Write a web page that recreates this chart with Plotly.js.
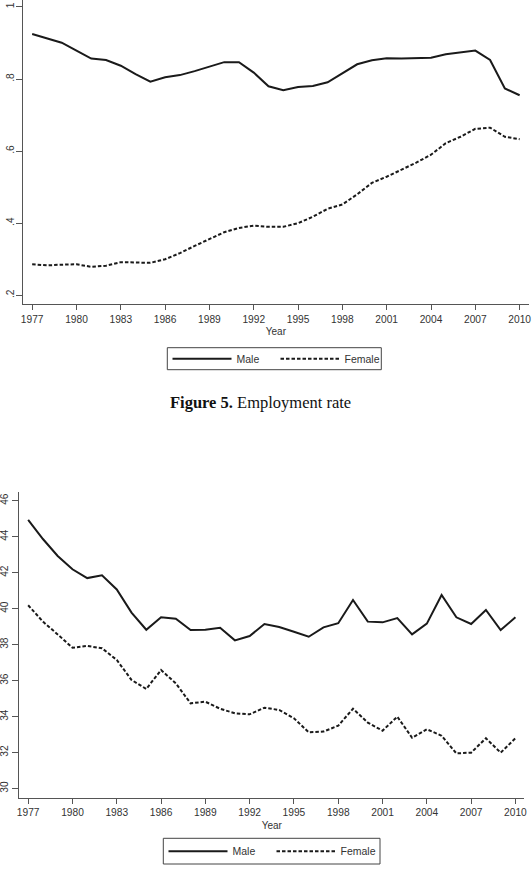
<!DOCTYPE html>
<html>
<head>
<meta charset="utf-8">
<script src="https://cdn.plot.ly/plotly-3.0.1.min.js"></script>
<style>
  html, body { margin: 0; padding: 0; background: #fff; }
  #chart { width: 532px; height: 876px; }
</style>
</head>
<body>
<div id="chart"></div>
<script>
// Survey years
const years = [1977,1978,1979,1980,1981,1982,1983,1984,1985,1986,1987,1988,1989,1990,1991,1992,1993,
               1994,1995,1996,1997,1998,1999,2000,2001,2002,2003,2004,2005,2006,2007,2008,2009,2010];

// Employment rate by sex
const maleEmployment = [0.925,0.913,0.901,0.879,0.857,0.853,0.837,0.814,0.793,0.805,0.811,0.822,0.834,0.847,0.847,0.818,0.780,
                        0.769,0.778,0.781,0.791,0.815,0.841,0.852,0.858,0.857,0.857,0.859,0.869,0.873,0.879,0.853,0.774,0.755];
const femaleEmployment = [0.286,0.283,0.285,0.286,0.279,0.282,0.292,0.292,0.290,0.300,0.317,0.337,0.357,0.375,0.387,0.393,0.390,
                          0.390,0.400,0.418,0.440,0.452,0.480,0.512,0.529,0.548,0.568,0.590,0.622,0.640,0.662,0.665,0.640,0.633];

// Second panel series by sex
const maleSecond = [44.93,43.87,42.93,42.19,41.70,41.85,41.07,39.78,38.83,39.52,39.44,38.81,38.83,38.94,38.24,38.48,39.15,
                    38.98,38.72,38.44,38.96,39.19,40.48,39.28,39.24,39.48,38.57,39.17,40.76,39.52,39.15,39.93,38.81,39.52];
const femaleSecond = [40.19,39.28,38.57,37.83,37.93,37.80,37.15,36.04,35.54,36.59,35.85,34.74,34.83,34.44,34.19,34.13,34.50,
                      34.37,33.91,33.13,33.17,33.50,34.44,33.67,33.22,34.00,32.83,33.30,32.94,31.96,32.00,32.80,32.00,32.80];

// Tick values and labels
const yearTicks = [1977,1980,1983,1986,1989,1992,1995,1998,2001,2004,2007,2010];
const rateTicks = [0.2,0.4,0.6,0.8,1];
const rateTickText = ['.2','.4','.6','.8','1'];
const secondTicks = [30,32,34,36,38,40,42,44,46];

const seriesNames = ['Male', 'Female'];
const caption = '<b>Figure 5.</b> Employment rate';

const W = 532, H = 876;
const px = v => v / W;
const py = v => 1 - v / H;

const lineColor = '#1a1a1a';
const axisColor = '#555555';
const textColor = '#333333';
const sans = 'Liberation Sans, Arial, sans-serif';
const dashPattern = '3.5px,2px';

function trace(y, name, dashed, xa, ya, legend) {
  return {
    x: years, y: y, name: name, type: 'scatter', mode: 'lines',
    xaxis: xa, yaxis: ya, legend: legend,
    line: { color: lineColor, width: 2, dash: dashed ? dashPattern : 'solid' },
    hoverinfo: 'x+y'
  };
}

const data = [
  trace(maleEmployment, seriesNames[0], false, 'x', 'y', 'legend'),
  trace(femaleEmployment, seriesNames[1], true, 'x', 'y', 'legend'),
  trace(maleSecond, seriesNames[0], false, 'x2', 'y2', 'legend2'),
  trace(femaleSecond, seriesNames[1], true, 'x2', 'y2', 'legend2')
];

function xAxis(domain, anchor) {
  return {
    domain: domain, anchor: anchor, range: [1976.4, 2010.6],
    tickvals: yearTicks, ticks: 'outside', ticklen: 5, tickwidth: 1, tickcolor: axisColor,
    showline: true, linecolor: axisColor, linewidth: 1,
    showgrid: false, zeroline: false,
    tickfont: { family: sans, size: 10.2, color: textColor },
    title: { text: 'Year', font: { family: sans, size: 10, color: textColor }, standoff: 4 }
  };
}

function yAxis(domain, anchor, range, vals, text, standoff) {
  const ax = {
    domain: domain, anchor: anchor, range: range,
    tickvals: vals, ticks: 'outside', ticklen: 6, tickwidth: 1, tickcolor: axisColor,
    tickangle: -90, ticklabelstandoff: standoff,
    showline: true, linecolor: axisColor, linewidth: 1,
    showgrid: false, zeroline: false,
    tickfont: { family: sans, size: 10.2, color: textColor }
  };
  if (text) ax.ticktext = text;
  return ax;
}

// Legend entries sit inside a framed box drawn as a shape
function legendEntries(x, yMid) {
  return {
    orientation: 'h', x: x, y: yMid, xanchor: 'left', yanchor: 'middle',
    borderwidth: 0, bgcolor: 'rgba(0,0,0,0)',
    itemwidth: 59, entrywidth: 34,
    font: { family: sans, size: 10.5, color: textColor },
    traceorder: 'normal'
  };
}

function frame(x0, x1, y0, y1) {
  return {
    type: 'rect', xref: 'paper', yref: 'paper',
    x0: px(x0), x1: px(x1), y0: py(y1), y1: py(y0),
    line: { color: '#444444', width: 1 }, fillcolor: 'rgba(0,0,0,0)', layer: 'above'
  };
}

const layout = {
  width: W, height: H,
  margin: { l: 0, r: 0, t: 0, b: 0 },
  paper_bgcolor: '#ffffff', plot_bgcolor: '#ffffff',
  showlegend: true,
  xaxis: xAxis([px(23.3), px(528.5)], 'y'),
  yaxis: yAxis([py(304.3), py(0)], 'x', [0.175, 1.0194], rateTicks, rateTickText, -2),
  xaxis2: xAxis([px(19.3), px(524.3)], 'y2'),
  yaxis2: yAxis([py(798), py(491.7)], 'x2', [29.48, 46.5], secondTicks, null, 0),
  legend: legendEntries(px(167.5), py(358.7)),
  legend2: legendEntries(px(163.5), py(851.2)),
  shapes: [frame(167.3, 381.3, 347.7, 369.7), frame(163.3, 380, 838.3, 864)],
  annotations: [{
    text: caption, xref: 'paper', yref: 'paper',
    x: px(260.5), y: py(402.7), xanchor: 'center', yanchor: 'middle',
    showarrow: false,
    font: { family: 'Liberation Serif, Times New Roman, serif', size: 16.5, color: '#111111' }
  }]
};

Plotly.newPlot('chart', data, layout, { displayModeBar: false, staticPlot: true });
</script>
</body>
</html>
